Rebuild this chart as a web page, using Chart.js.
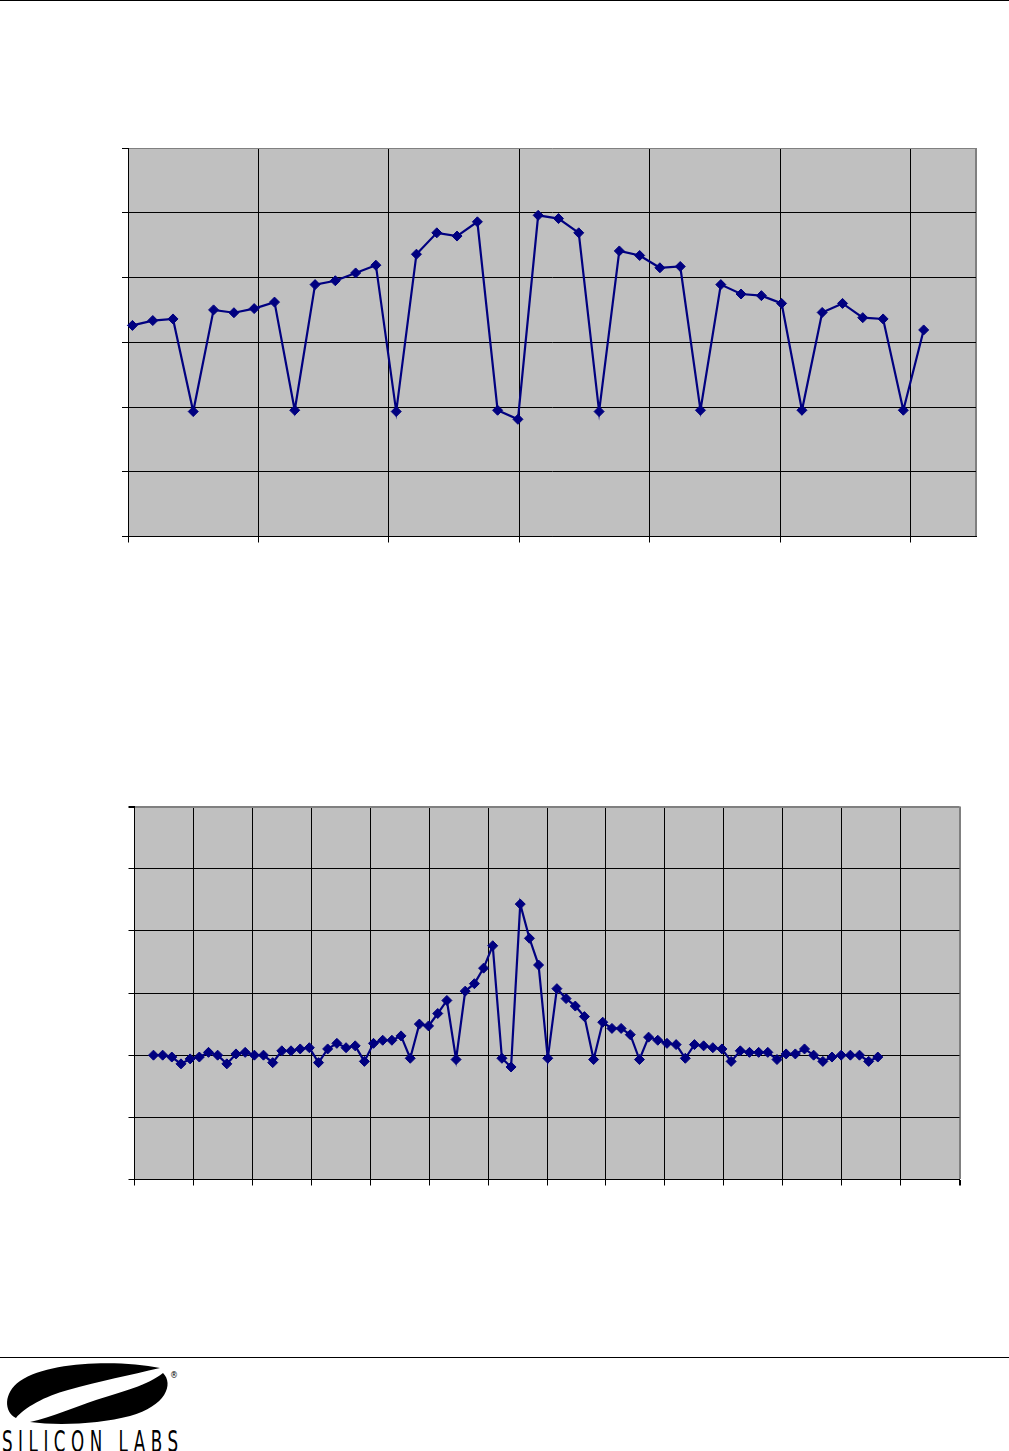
<!DOCTYPE html>
<html><head><meta charset="utf-8">
<script src="https://cdn.jsdelivr.net/npm/chart.js@4.4.1/dist/chart.umd.min.js"></script>
<style>
html,body{margin:0;padding:0;background:#fff;}
body{width:1009px;height:1451px;position:relative;overflow:hidden;}
.rule{position:absolute;left:0;width:1009px;height:1px;background:#000;}
.box{position:absolute;}
.box canvas{display:block;}
#logo{position:absolute;left:0;top:1360px;}
</style></head><body>
<div class="rule" style="top:0"></div>
<div class="box" style="left:100px;top:130px;width:900px;height:430px"><canvas id="c1" width="900" height="430"></canvas></div>
<div class="box" style="left:100px;top:790px;width:880px;height:410px"><canvas id="c2" width="880" height="410"></canvas></div>
<div class="rule" style="top:1357px"></div>
<svg id="logo" width="200" height="91" viewBox="0 0 200 91">
  <path d="M 160 8 C 120 0, 50 1, 20 21 C 3 33, 4 52, 16 58 C 24 48, 45 36, 68 30 C 100 21, 130 15, 160 8 Z" fill="#000"/>
  <path d="M 163 13 C 174 24, 166 46, 130 56 C 100 64, 58 66, 30 62 C 52 57, 75 47, 96 40 C 122 32, 148 25, 163 13 Z" fill="#000"/>
  <text x="170" y="18" font-family="DejaVu Sans" font-size="8" fill="#000">®</text>
  <text transform="scale(0.62,1)" x="3.2" y="92" textLength="284" lengthAdjust="spacing" font-family="DejaVu Sans Condensed, DejaVu Sans" font-size="30" fill="#000">SILICON LABS</text>
</svg>
<script>
// ---- Chart 1 (top) ----
const topX = [0.034,0.190,0.345,0.500,0.656,0.812,0.967,1.123,1.278,1.434,
              1.589,1.745,1.900,2.056,2.211,2.367,2.522,2.678,2.833,2.989,
              3.144,3.300,3.455,3.611,3.766,3.922,4.077,4.233,4.388,4.544,
              4.699,4.855,5.010,5.166,5.321,5.477,5.632,5.788,5.943,6.099];
const topY = [3.26,3.335,3.36,1.93,3.50,3.456,3.52,3.62,1.95,3.89,
              3.95,4.07,4.19,1.93,4.36,4.69,4.64,4.86,1.95,1.81,
              4.96,4.91,4.69,1.93,4.41,4.34,4.15,4.17,1.95,3.89,
              3.745,3.72,3.60,1.95,3.46,3.60,3.38,3.36,1.95,3.19];
const topXTicks = [0,1,2,3,4,5,6,6.5];
const topYTicks = [0,1,2,3,4,5,6];

// ---- Chart 2 (bottom) ----
const botX = [0.322,0.478,0.633,0.789,0.944,1.100,1.256,1.411,1.567,1.722,
              1.878,2.034,2.189,2.345,2.500,2.656,2.812,2.967,3.123,3.278,
              3.434,3.590,3.745,3.901,4.056,4.212,4.368,4.523,4.679,4.834,
              4.990,5.146,5.301,5.457,5.612,5.768,5.924,6.079,6.235,6.390,
              6.546,6.702,6.857,7.013,7.168,7.324,7.480,7.635,7.791,7.946,
              8.102,8.258,8.413,8.569,8.724,8.880,9.036,9.191,9.347,9.502,
              9.658,9.814,9.969,10.125,10.280,10.436,10.592,10.747,10.903,11.058,
              11.214,11.370,11.525,11.681,11.836,11.992,12.148,12.303,12.459,12.614];
const botY = [2.00,2.00,1.97,1.86,1.94,1.97,2.045,2.00,1.86,2.02,
              2.045,2.00,2.00,1.88,2.07,2.07,2.10,2.12,1.88,2.10,
              2.19,2.12,2.15,1.90,2.19,2.24,2.24,2.31,1.95,2.50,
              2.47,2.67,2.88,1.93,3.03,3.15,3.40,3.76,1.95,1.81,
              4.43,3.88,3.45,1.95,3.07,2.91,2.79,2.62,1.93,2.53,
              2.43,2.43,2.33,1.93,2.29,2.24,2.19,2.17,1.95,2.17,
              2.15,2.12,2.10,1.90,2.07,2.045,2.045,2.045,1.93,2.02,
              2.02,2.10,2.00,1.90,1.97,2.00,2.00,2.00,1.90,1.97];
const botXTicks = [0,1,2,3,4,5,6,7,8,9,10,11,12,13,14];
const botYTicks = [0,1,2,3,4,5,6];

const plotBg = {
  id: 'plotBg',
  beforeDraw(chart) {
    const a = chart.chartArea, ctx = chart.ctx;
    ctx.save();
    ctx.fillStyle = '#C0C0C0';
    ctx.fillRect(a.left, a.top, a.right - a.left, a.bottom - a.top);
    ctx.restore();
  }
};

function makeChart(id, xs, ys, xTicks, yTicks, opt) {
  const xMax = xTicks[xTicks.length - 1];
  const yMax = yTicks[yTicks.length - 1];
  const pts = xs.map((x, i) => ({x: x, y: ys[i]}));
  return new Chart(document.getElementById(id), {
    type: 'line',
    data: { datasets: [{
      data: pts,
      borderColor: '#000080',
      borderWidth: 2.2,
      pointStyle: 'rectRot',
      pointRadius: 5,
      pointBackgroundColor: '#000080',
      pointBorderColor: '#000080',
      pointBorderWidth: 1,
      tension: 0,
      clip: false
    }]},
    options: {
      responsive: false,
      devicePixelRatio: 1,
      animation: false,
      events: [],
      layout: { padding: opt.padding, autoPadding: false },
      plugins: { legend: {display: false}, tooltip: {enabled: false} },
      scales: {
        x: {
          type: 'linear', min: 0, max: xMax,
          afterBuildTicks: s => { s.ticks = xTicks.map(v => ({value: v})); },
          afterFit: s => { s.height = 6; },
          ticks: { display: false },
          grid: {
            color: c => (c.tick && c.tick.value === xMax) ? '#808080' : '#000000',
            lineWidth: c => (c.tick && c.tick.value === xMax) ? 2 : 1,
            tickColor: c => (c.tick && c.tick.value === xMax && !opt.edgeTick) ? 'rgba(0,0,0,0)' : '#000000',
            tickLength: 6, drawTicks: true
          },
          border: { display: true, color: '#000000', width: 1 }
        },
        y: {
          type: 'linear', min: 0, max: yMax,
          afterBuildTicks: s => { s.ticks = yTicks.map(v => ({value: v})); },
          afterFit: s => { s.width = 6; },
          ticks: { display: false },
          grid: {
            color: c => (c.tick && c.tick.value === yMax) ? '#808080' : '#000000',
            lineWidth: c => (c.tick && c.tick.value === yMax) ? opt.topWidth : 1,
            tickColor: '#000000',
            tickLength: 6, drawTicks: true
          },
          border: { display: true, color: '#000000', width: 1 }
        }
      }
    },
    plugins: [plotBg]
  });
}

makeChart('c1', topX, topY, topXTicks, topYTicks,
  { padding: {left: 22, right: 24, top: 18, bottom: 17.5}, topWidth: 1, edgeTick: false });
makeChart('c2', botX, botY, botXTicks, botYTicks,
  { padding: {left: 28.5, right: 20.5, top: 16.5, bottom: 14.5}, topWidth: 2, edgeTick: true });
</script>
</body></html>
